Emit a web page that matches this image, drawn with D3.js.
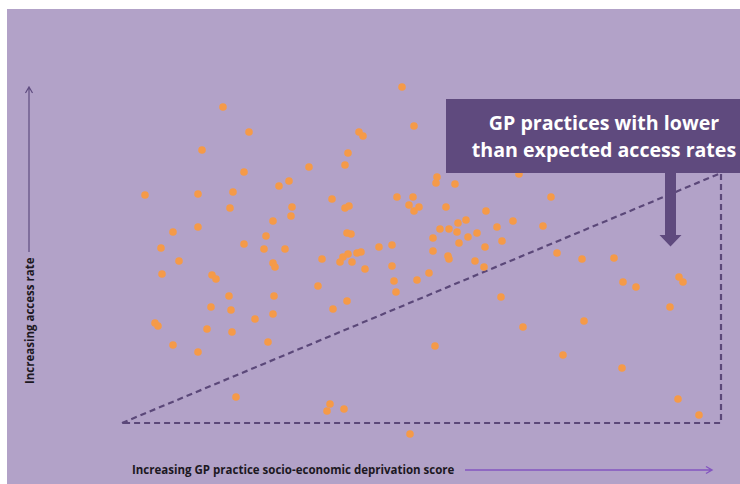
<!DOCTYPE html>
<html>
<head>
<meta charset="utf-8">
<script src="https://cdn.jsdelivr.net/npm/d3@7"></script>
<style>
  body { margin: 0; background: #fff; }
  .axis-text { font-family: "Open Sans", sans-serif; font-weight: bold; font-size: 11.5px; fill: #1c1822; }
  .box-text { font-family: "Open Sans", sans-serif; font-weight: bold; font-size: 19.6px; fill: #fff; }
</style>
</head>
<body>
<div id="chart"></div>
<script>
// deprivation score (x) and access rate (y) per GP practice, in arbitrary score units
var deprivation = [280, 101, 127, 237, 241, 292, 80, 226, 122, 187, 223, 157, 167, 23, 76, 111, 108, 170, 169, 151,
    144, 122, 142, 163, 151, 153, 51, 76, 39, 57, 210, 223, 227, 225, 229, 200, 218, 221, 226, 235,
    239, 230, 257, 270, 270, 243, 275, 291, 287, 292, 297, 315, 314, 333, 324, 364, 391, 421, 429, 318,
    327, 336, 344, 335, 355, 375, 346, 311, 337, 363, 380, 311, 326, 327, 353, 362, 307, 272, 274, 295,
    196, 225, 211, 40, 90, 94, 107, 152, 89, 109, 133, 151, 33, 36, 85, 110, 51, 76, 146, 114,
    208, 205, 222, 288, 379, 435, 460, 492, 501, 514, 557, 561, 548, 401, 462, 313, 441, 500, 556, 577, 397];
var access = [336, 316, 291, 291, 287, 297, 273, 270, 251, 256, 258, 237, 242, 228, 229, 231, 215, 216, 207, 202,
    187, 179, 174, 174, 160, 156, 191, 196, 175, 162, 224, 215, 217, 190, 189, 164, 161, 166, 169, 170,
    171, 161, 176, 178, 157, 154, 226, 226, 218, 212, 216, 246, 240, 239, 216, 212, 202, 197, 226, 194,
    194, 200, 203, 191, 190, 196, 186, 185, 180, 176, 182, 172, 167, 164, 162, 156, 150, 142, 131, 143,
    137, 122, 114, 149, 148, 144, 127, 127, 116, 113, 104, 109, 100, 97, 94, 91, 78, 71, 81, 26,
    19, 12, 14, -11, 126, 170, 164, 165, 141, 136, 146, 141, 116, 96, 102, 77, 68, 55, 24, 8, 249];

// expected-access boundary (dashed triangle)
var boundaryX = [0, 599, 599, 0];
var boundaryY = [0, 250, 0, 0];

var xLabel = "Increasing GP practice socio-economic deprivation score";
var yLabel = "Increasing access rate";
var boxLines = ["GP practices with lower", "than expected access rates"];

var width = 740;
var height = 484;

var x = d3.scaleLinear().domain([0, 600]).range([122, 722]);
var y = d3.scaleLinear().domain([0, 340]).range([423, 83]);

var svg = d3.select("#chart").append("svg")
    .attr("width", width)
    .attr("height", height);

svg.append("rect")
    .attr("x", 7)
    .attr("y", 9)
    .attr("width", width - 7)
    .attr("height", height - 9)
    .style("fill", "#b2a2c8");

var line = d3.line()
    .x(function(d) { return x(d[0]); })
    .y(function(d) { return y(d[1]); });

svg.append("path")
    .attr("d", line(d3.zip(boundaryX, boundaryY)))
    .style("fill", "none")
    .style("stroke", "#5b4879")
    .style("stroke-width", "2.2px")
    .style("stroke-dasharray", "6,4");

// dots
svg.append("g").selectAll("circle")
    .data(d3.zip(deprivation, access))
    .enter().append("circle")
    .attr("cx", function(d) { return x(d[0]); })
    .attr("cy", function(d) { return y(d[1]); })
    .attr("r", 3.8)
    .style("fill", "#f59a48");

// annotation box + down arrow
svg.append("rect")
    .attr("x", 446)
    .attr("y", 99)
    .attr("width", 294)
    .attr("height", 74)
    .style("fill", "#5f4a7e");

svg.append("path")
    .attr("d", "M665,173 L676,173 L676,235 L681.5,235 L670.5,246.5 L659.5,235 L665,235 Z")
    .style("fill", "#5f4a7e");

svg.selectAll(".box-text")
    .data(boxLines)
    .enter().append("text")
    .attr("class", "box-text")
    .attr("text-anchor", "middle")
    .attr("x", 604)
    .attr("y", function(d, i) { return 130 + i * 27; })
    .text(function(d) { return d; });

// axis labels with arrows
svg.append("text")
    .text(xLabel)
    .attr("class", "axis-text")
    .attr("x", 132)
    .attr("y", 474);

svg.append("path")
    .attr("d", "M465,470 L712,470 M706,466.5 L712,470 L706,473.5")
    .style("fill", "none")
    .style("stroke", "#8455c0")
    .style("stroke-width", "1.4px");

svg.append("text")
    .text(yLabel)
    .attr("class", "axis-text")
    .attr("transform", "translate(33.5,384) rotate(-90)");

svg.append("path")
    .attr("d", "M29,252 L29,87 M25.5,93 L29,87 L32.5,93")
    .style("fill", "none")
    .style("stroke", "#5f4c80")
    .style("stroke-width", "1.2px");
</script>
</body>
</html>
